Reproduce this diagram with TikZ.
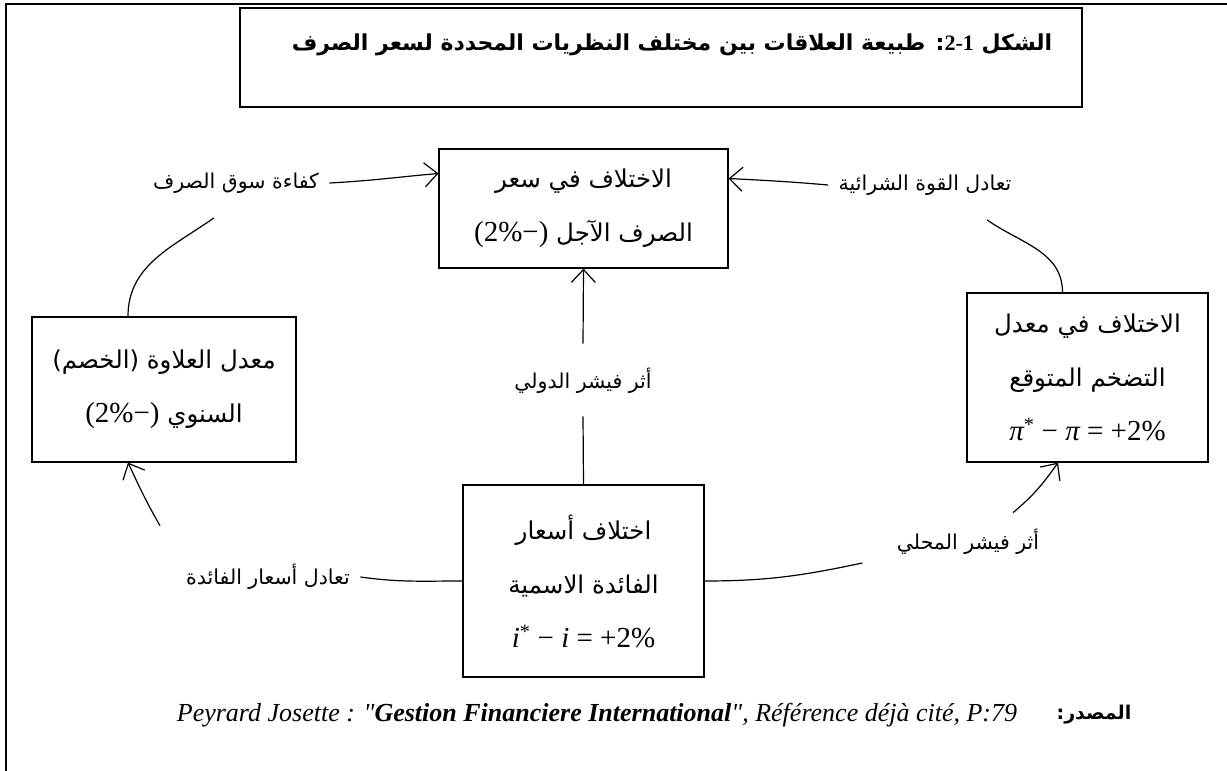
\documentclass[tikz,border=0pt]{standalone}
\usepackage{fontspec}
\setmainfont{Liberation Serif}[Ligatures=TeXOff]
\newfontfamily\arabicfont[Script=Arabic]{DejaVu Sans}
\TeXXeTstate=1
\usetikzlibrary{arrows.meta}
\newcommand{\ar}[1]{{\arabicfont\beginR #1\endR}}
\newcommand{\lat}[1]{\beginL{\rmfamily #1}\endL}
\newcommand{\eqsize}[1]{{\fontsize{29}{54}\selectfont #1}}
\tikzstyle{block}=[draw, line width=1.2pt, align=center, font=\fontsize{24.5}{54}\selectfont]
\tikzstyle{lab}=[inner sep=10pt, font=\fontsize{20.5}{24}\selectfont]
\tikzstyle{arr}=[-{Straight Barb[length=13pt,width=24pt]}]
\newcommand{\block}{\node[block]}

\begin{document}
\begin{tikzpicture}[x=1pt,y=1pt,line width=1.2pt]
\useasboundingbox (0,0) rectangle (1227,771);
%frame
\draw[line width=2pt] (6,0) -- (6,767) -- (1227,767);
%title
\block[minimum width=842pt, minimum height=99pt] (title) at (661,713.5){};
\node[font=\fontsize{22}{26}\selectfont\bfseries] (titletext) at (672,726){\ar{الشكل \lat{2-1}: طبيعة العلاقات بين مختلف النظريات المحددة لسعر الصرف}};
%boxes
\block[minimum width=289pt, minimum height=119pt] (fwd) at (583.5,562.5){\ar{الاختلاف في سعر}\\ \ar{الصرف الآجل \lat{\eqsize{(2\%−)}}}};
\block[minimum width=264pt, minimum height=145pt] (prem) at (164,381.5){\ar{معدل العلاوة (الخصم)}\\ \ar{السنوي \lat{\eqsize{(2\%−)}}}};
\block[minimum width=241pt, minimum height=169pt] (infl) at (1087.5,393.5){\ar{الاختلاف في معدل}\\ \ar{التضخم المتوقع}\\ \eqsize{{\itshape π}\textsuperscript{*} − {\itshape π} = +2\%}};
\block[minimum width=241pt, minimum height=192pt] (rate) at (583.5,190){\ar{اختلاف أسعار}\\ \ar{الفائدة الاسمية}\\ \eqsize{{\itshape i}\textsuperscript{*} − {\itshape i} = +2\%}};
%labels
\node[lab] (eff) at (236,588){\ar{كفاءة سوق الصرف}};
\node[lab] (ppp) at (925,586){\ar{تعادل القوة الشرائية}};
\node[lab] (fint) at (583,390){\ar{أثر فيشر الدولي}};
\node[lab] (irp) at (268,194){\ar{تعادل أسعار الفائدة}};
\node[lab] (floc) at (968,229){\ar{أثر فيشر المحلي}};
%links
\draw[arr] (eff.east) to[out=3,in=185] ([yshift=35pt]fwd.west);
\draw ([xshift=-36pt]prem.north) to[out=90,in=215] ([xshift=-22pt,yshift=-14pt]eff.south);
\draw[arr] (ppp.west) to[out=175,in=-3] ([yshift=30pt]fwd.east);
\draw ([xshift=-25pt]infl.north) to[out=90,in=-35] ([xshift=62pt,yshift=-14pt]ppp.south);
\draw (rate.north) -- ([yshift=-12pt]fint.south);
\draw[arr] ([yshift=14pt]fint.north) -- (fwd.south);
\draw (rate.west) to[out=180,in=-8] (irp.east);
\draw[arr] ([xshift=-108pt,yshift=28pt]irp.north) to[out=120,in=-65] ([xshift=-36pt]prem.south);
\draw (rate.east) to[out=0,in=192] ([xshift=-24pt,yshift=-21pt]floc.west);
\draw[arr] ([xshift=45pt,yshift=6pt]floc.north) to[out=40,in=235] ([xshift=-29.5pt]infl.south);
%source
\node[font=\fontsize{26}{30}\selectfont] (src) at (597,56){\itshape Peyrard Josette : "\textbf{Gestion Financiere International}", Référence déjà cité, P:79};
\node[font=\fontsize{19}{22}\selectfont\bfseries] (srclab) at (1094,56){\ar{المصدر:}};
\end{tikzpicture}
\end{document}
